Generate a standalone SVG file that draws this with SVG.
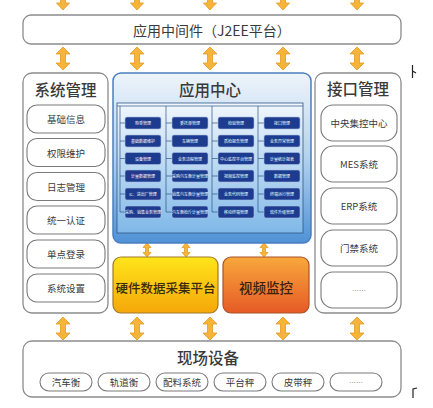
<svg xmlns="http://www.w3.org/2000/svg" xmlns:xlink="http://www.w3.org/1999/xlink" width="433" height="408" viewBox="0 0 433 408">
<defs>
<style>
.box{fill:#fff;stroke:#8c8c8c;stroke-width:1.3}
.item{fill:#fff;stroke:#7a7a7a;stroke-width:1.1}
.t{font-family:"Noto Sans CJK SC","Noto Sans",sans-serif;fill:#3a3a3a;text-anchor:middle;dominant-baseline:central}
.h{font-size:15.5px;font-weight:500}
.s{font-size:9.5px}
.dots{font-size:7px;fill:#888}
.btn{fill:#1d3c8f;stroke:#a9bfe3;stroke-width:0.6}
.bt{font-size:4px;fill:#fff}
.arr{fill:#f6b53a;stroke:#e39b23;stroke-width:0.8}
.grid{stroke:#2d5587;stroke-width:0.7;fill:none}
.mark{stroke:#222;stroke-width:1.2;fill:none}
</style>
<linearGradient id="gApp" x1="0" y1="0" x2="0" y2="1">
<stop offset="0" stop-color="#eef4fb"/>
<stop offset="0.5" stop-color="#b3d1ee"/>
<stop offset="1" stop-color="#4f92d6"/>
</linearGradient>
<linearGradient id="gIn" x1="0" y1="0" x2="0" y2="1">
<stop offset="0" stop-color="#f2f7fc"/>
<stop offset="1" stop-color="#7fb8e8"/>
</linearGradient>
<linearGradient id="gHw" x1="0" y1="0" x2="0" y2="1">
<stop offset="0" stop-color="#ffe51a"/>
<stop offset="1" stop-color="#f5a70a"/>
</linearGradient>
<linearGradient id="gVid" x1="0" y1="0" x2="0" y2="1">
<stop offset="0" stop-color="#f8a83c"/>
<stop offset="1" stop-color="#e65a26"/>
</linearGradient>
<path id="da" class="arr" d="M0,0 L7,7 L2.5,7 L2.5,16 L7,16 L0,23 L-7,16 L-2.5,16 L-2.5,7 L-7,7 Z"/>
<path id="das" class="arr" d="M0,0 L4,4.5 L1.5,4.5 L1.5,9.5 L4,9.5 L0,14 L-4,9.5 L-1.5,9.5 L-1.5,4.5 L-4,4.5 Z"/>
<path id="sa" class="arr" d="M-2.5,-1 L2.5,-1 L2.5,3 L6.5,3 L0,10 L-6.5,3 L-2.5,3 Z"/>
</defs>
<rect width="433" height="408" fill="#fff"/>

<g id="connectors">
<use xlink:href="#sa" x="63" y="0"/>
<use xlink:href="#sa" x="137" y="0"/>
<use xlink:href="#sa" x="210" y="0"/>
<use xlink:href="#sa" x="283" y="0"/>
<use xlink:href="#sa" x="357" y="0"/>
<use xlink:href="#da" x="63" y="47"/>
<use xlink:href="#da" x="137" y="47"/>
<use xlink:href="#da" x="210" y="47"/>
<use xlink:href="#da" x="283" y="47"/>
<use xlink:href="#da" x="357" y="47"/>
<use xlink:href="#das" x="147" y="243"/>
<use xlink:href="#das" x="186" y="243"/>
<use xlink:href="#das" x="264" y="243"/>
<use xlink:href="#da" x="63" y="317"/>
<use xlink:href="#da" x="137" y="317"/>
<use xlink:href="#da" x="210" y="317"/>
<use xlink:href="#da" x="283" y="317"/>
<use xlink:href="#da" x="357" y="317"/>
</g>

<g id="middleware">
<rect class="box" x="23" y="15" width="378" height="29" rx="8"/>
<text class="t" x="212" y="29.5" font-size="14">应用中间件（J2EE平台）</text>
</g>

<g id="sysmgmt">
<rect class="box" x="23" y="73" width="85" height="240" rx="9"/>
<text class="t h" x="65.5" y="89">系统管理</text>
<rect class="item" x="27" y="105" width="78" height="28" rx="10"/>
<text class="t s" x="66" y="119">基础信息</text>
<rect class="item" x="27" y="138.5" width="78" height="28" rx="10"/>
<text class="t s" x="66" y="152.5">权限维护</text>
<rect class="item" x="27" y="172.5" width="78" height="28" rx="10"/>
<text class="t s" x="66" y="186.5">日志管理</text>
<rect class="item" x="27" y="206" width="78" height="28" rx="10"/>
<text class="t s" x="66" y="220">统一认证</text>
<rect class="item" x="27" y="240" width="78" height="28" rx="10"/>
<text class="t s" x="66" y="254">单点登录</text>
<rect class="item" x="27" y="274" width="78" height="28" rx="10"/>
<text class="t s" x="66" y="288">系统设置</text>
</g>

<g id="appcenter">
<rect x="113" y="73" width="198" height="170" rx="8" fill="url(#gApp)" stroke="#4a7fbf" stroke-width="1.5"/>
<text class="t h" x="210" y="89">应用中心</text>
<rect x="117" y="103" width="186" height="130" fill="url(#gIn)" stroke="#2d5587" stroke-width="0.8"/>
<path class="grid" d="M117,106 H303 M120,106 V212 M166,106 V212 M212,106 V212 M258,106 V212
M120,123 H125 M120,141 H125 M120,158.5 H125 M120,176 H125 M120,194 H125 M120,212 H125
M166,123 H172 M166,141 H172 M166,158.5 H172 M166,176 H172 M166,194 H172 M166,212 H172
M212,123 H218 M212,141 H218 M212,158.5 H218 M212,176 H218 M212,194 H218 M212,212 H218
M258,123 H264 M258,141 H264 M258,158.5 H264 M258,176 H264 M258,194 H264 M258,212 H264"/>
<g>
<rect class="btn" x="125" y="117" width="36" height="12" rx="2"/><text class="t bt" x="143" y="123">称重管理</text>
<rect class="btn" x="125" y="135" width="36" height="12" rx="2"/><text class="t bt" x="143" y="141">基础数据维护</text>
<rect class="btn" x="125" y="152.5" width="36" height="12" rx="2"/><text class="t bt" x="143" y="158.5">设备管理</text>
<rect class="btn" x="125" y="170" width="36" height="12" rx="2"/><text class="t bt" x="143" y="176">计量数据管理</text>
<rect class="btn" x="125" y="188" width="36" height="12" rx="2"/><text class="t bt" x="143" y="194">IC、进出厂管理</text>
<rect class="btn" x="125" y="206" width="36" height="12" rx="2"/><text class="t bt" x="143" y="212">采购、销售业务管理</text>
<rect class="btn" x="172" y="117" width="36" height="12" rx="2"/><text class="t bt" x="190" y="123">委托单管理</text>
<rect class="btn" x="172" y="135" width="36" height="12" rx="2"/><text class="t bt" x="190" y="141">车辆管理</text>
<rect class="btn" x="172" y="152.5" width="36" height="12" rx="2"/><text class="t bt" x="190" y="158.5">业务流程管理</text>
<rect class="btn" x="172" y="170" width="36" height="12" rx="2"/><text class="t bt" x="190" y="176">采购汽车衡计量管理</text>
<rect class="btn" x="172" y="188" width="36" height="12" rx="2"/><text class="t bt" x="190" y="194">销售汽车衡计量管理</text>
<rect class="btn" x="172" y="206" width="36" height="12" rx="2"/><text class="t bt" x="190" y="212">汽车衡检斤计量管理</text>
<rect class="btn" x="218" y="117" width="36" height="12" rx="2"/><text class="t bt" x="236" y="123">检验管理</text>
<rect class="btn" x="218" y="135" width="36" height="12" rx="2"/><text class="t bt" x="236" y="141">质检报告管理</text>
<rect class="btn" x="218" y="152.5" width="36" height="12" rx="2"/><text class="t bt" x="236" y="158.5">中心监控平台管理</text>
<rect class="btn" x="218" y="170" width="36" height="12" rx="2"/><text class="t bt" x="236" y="176">视频监控管理</text>
<rect class="btn" x="218" y="188" width="36" height="12" rx="2"/><text class="t bt" x="236" y="194">业务代码管理</text>
<rect class="btn" x="218" y="206" width="36" height="12" rx="2"/><text class="t bt" x="236" y="212">移动终端管理</text>
<rect class="btn" x="264" y="117" width="36" height="12" rx="2"/><text class="t bt" x="282" y="123">接口管理</text>
<rect class="btn" x="264" y="135" width="36" height="12" rx="2"/><text class="t bt" x="282" y="141">业务异常管理</text>
<rect class="btn" x="264" y="152.5" width="36" height="12" rx="2"/><text class="t bt" x="282" y="158.5">计量统计报表</text>
<rect class="btn" x="264" y="170" width="36" height="12" rx="2"/><text class="t bt" x="282" y="176">数据管理</text>
<rect class="btn" x="264" y="188" width="36" height="12" rx="2"/><text class="t bt" x="282" y="194">终端运行管理</text>
<rect class="btn" x="264" y="206" width="36" height="12" rx="2"/><text class="t bt" x="282" y="212">软件升级管理</text>
</g>
</g>

<g id="hardware">
<rect x="113" y="257" width="105" height="56" rx="8" fill="url(#gHw)" stroke="#a07a2a" stroke-width="1.2"/>
<text class="t" x="165.5" y="287" font-size="12.5" font-weight="500" style="fill:#3b2a10">硬件数据采集平台</text>
</g>

<g id="video">
<rect x="223" y="257" width="86" height="56" rx="8" fill="url(#gVid)" stroke="#a8542a" stroke-width="1.2"/>
<text class="t" x="266" y="287" font-size="13.5" font-weight="500" style="fill:#3b2010">视频监控</text>
</g>

<g id="ifmgmt">
<rect class="box" x="315" y="73" width="86" height="240" rx="9"/>
<text class="t h" x="358" y="88">接口管理</text>
<rect class="item" x="321" y="105" width="76" height="36" rx="12"/>
<text class="t s" x="359" y="123">中央集控中心</text>
<rect class="item" x="321" y="146" width="76" height="36" rx="12"/>
<text class="t s" x="359" y="164">MES系统</text>
<rect class="item" x="321" y="188" width="76" height="36" rx="12"/>
<text class="t s" x="359" y="206">ERP系统</text>
<rect class="item" x="321" y="230" width="76" height="36" rx="12"/>
<text class="t s" x="359" y="248">门禁系统</text>
<rect class="item" x="321" y="272" width="76" height="36" rx="12"/>
<text class="t dots" x="359" y="290">……</text>
</g>

<g id="field">
<rect class="box" x="23" y="341" width="378" height="56" rx="9"/>
<text class="t h" x="208" y="357">现场设备</text>
<rect class="item" x="40" y="373" width="52" height="18" rx="9"/><text class="t s" x="66" y="382">汽车衡</text>
<rect class="item" x="98" y="373" width="52" height="18" rx="9"/><text class="t s" x="124" y="382">轨道衡</text>
<rect class="item" x="156" y="373" width="52" height="18" rx="9"/><text class="t s" x="182" y="382">配料系统</text>
<rect class="item" x="214" y="373" width="52" height="18" rx="9"/><text class="t s" x="240" y="382">平台秤</text>
<rect class="item" x="272" y="373" width="52" height="18" rx="9"/><text class="t s" x="298" y="382">皮带秤</text>
<rect class="item" x="330" y="373" width="52" height="18" rx="9"/><text class="t dots" x="356" y="382">……</text>
</g>

<g id="marks">
<path class="mark" d="M412.5,65 V78 M412.5,71 L416,73"/>
<path class="mark" d="M413,398 V389 L417,388"/>
</g>
</svg>
